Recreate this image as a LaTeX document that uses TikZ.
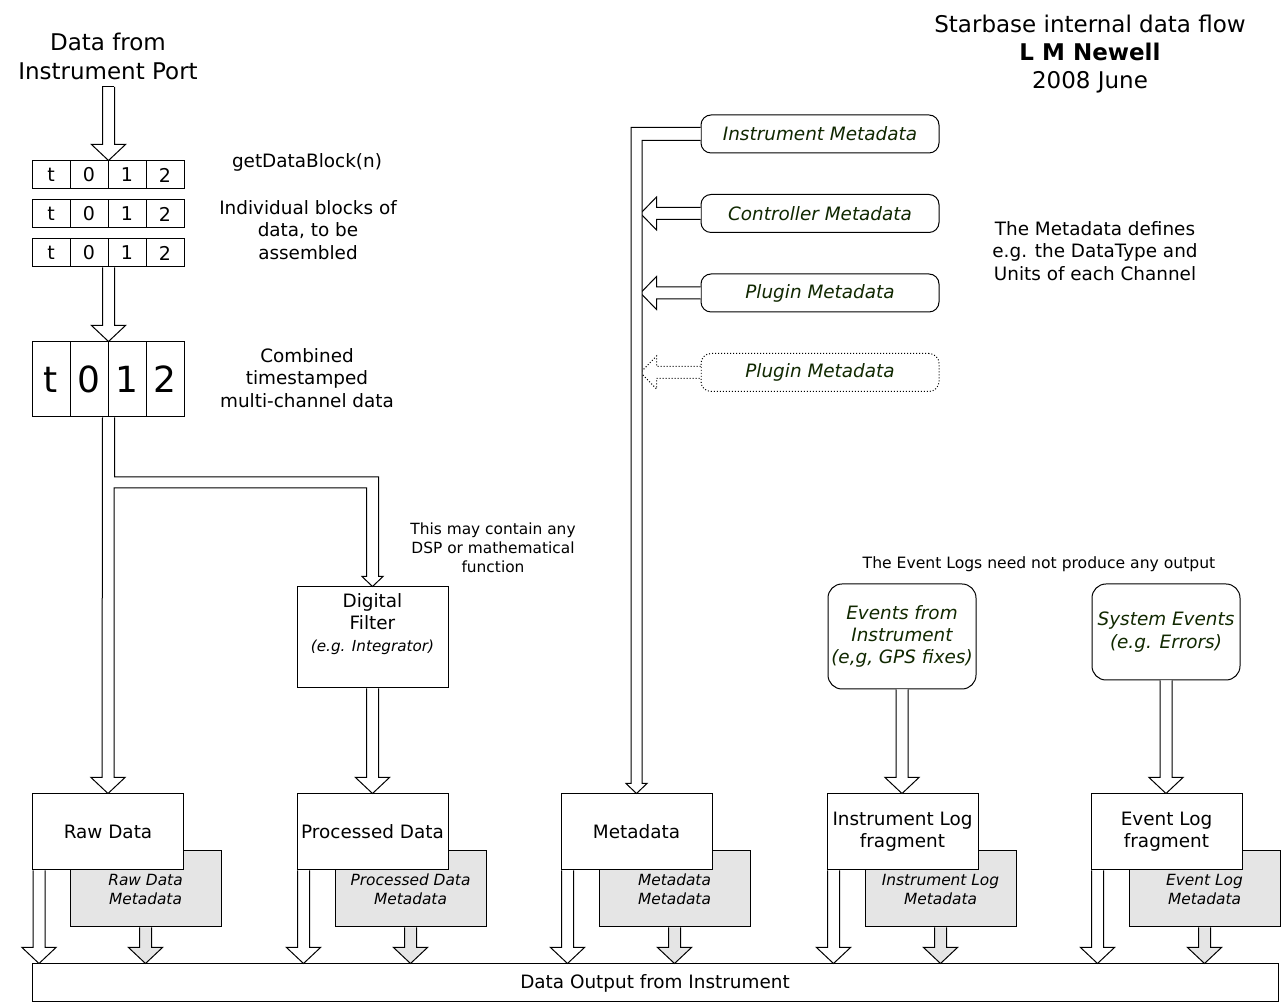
\documentclass[tikz,border=0pt]{standalone}
\usepackage{fontspec}
\setmainfont{DejaVu Sans}
\usetikzlibrary{calc,positioning}
\definecolor{metatext}{RGB}{16,40,0}

\newcommand\fs[2]{\fontsize{#1}{#2}\selectfont}

% hollow block arrow pointing down, #2 = top of shaft, #3 = tip
\newcommand\hollowdown[3][white]{%
  \draw[hollow, fill=#1] let \p1=(#2), \p2=(#3) in
    (\x2-3pt,\y1) -- (\x2-3pt,\y2+8pt) -- (\x2-8.5pt,\y2+8pt) -- (\x2,\y2)
    -- (\x2+8.5pt,\y2+8pt) -- (\x2+3pt,\y2+8pt) -- (\x2+3pt,\y1);}

% hollow block arrow pointing left, #2 = start of shaft, #3 = tip
\newcommand\hollowleft[3][]{%
  \draw[hollow, #1] let \p1=(#2), \p2=(#3) in
    (\x1,\y2+3pt) -- (\x2+8pt,\y2+3pt) -- (\x2+8pt,\y2+8.25pt) -- (\x2,\y2)
    -- (\x2+8pt,\y2-8.25pt) -- (\x2+8pt,\y2-3pt) -- (\x1,\y2-3pt);}

\tikzset{
  every node/.style={font=\fs{9.2}{11.2}},
  note/.style={align=center},
  cell/.style={draw, minimum width=19pt, minimum height=14pt, inner sep=0pt, font=\fs{9.5}{11}},
  bigcell/.style={draw, minimum width=19pt, minimum height=37.5pt, inner sep=0pt, font=\fs{18}{20}},
  box/.style={draw, fill=white, minimum width=75.5pt, minimum height=38pt, inner sep=1pt, align=center},
  metabox/.style={draw, fill=gray!20, minimum width=75.5pt, minimum height=38pt, align=center,
    font=\itshape\fs{7.7}{9.5}},
  srcbox/.style={draw, fill=white, rounded corners=5pt, minimum width=119pt, minimum height=19pt,
    inner sep=0pt, text=metatext, font=\itshape\fs{9.2}{11}},
  evbox/.style={draw, rounded corners=7pt, minimum width=74pt, inner sep=0pt, align=center,
    text=metatext, font=\itshape\fs{9.2}{11.2}},
  hollow/.style={draw, fill=white, line join=miter},
}

\begin{document}
\begin{tikzpicture}[x=0.5pt, y=-0.5pt, line width=0.5pt]
\useasboundingbox (0,0) rectangle (1281,1004);

% titles and notes
\node[note, font=\fs{11.5}{14}] (title) at (1090,54) {Starbase internal data flow\\\textbf{L M Newell}\\2008 June};
\node[note, font=\fs{11.5}{14.5}] (port) at (108,56) {Data from\\Instrument Port};
\node (getblk) at (307,162) {getDataBlock(n)};
\node[note] (blknote) at (308,230) {Individual blocks of\\data, to be\\assembled};
\node[note] (combnote) at (307,378) {Combined\\timestamped\\multi-channel data};
\node[note, font=\fs{7.7}{9.5}] (dspnote) at (493,548) {This may contain any\\DSP or mathematical\\function};
\node[note] (mdnote) at (1095,251) {The Metadata defines\\e.g. the DataType and\\Units of each Channel};
\node[font=\fs{7.8}{9.5}] (evnote) at (1039,564) {The Event Logs need not produce any output};

% data blocks
\foreach \r/\yy in {1/175,2/214,3/253}
  \foreach \lab [count=\i] in {t,0,1,2}
    \node[cell] (blk\r-\i) at ({13+38*\i},\yy) {\lab};
\foreach \lab [count=\i] in {t,0,1,2}
  \node[bigcell] (big-\i) at ({13+38*\i},379.5) {\lab};

% outputs
\node[metabox] (raw-md) at (145.5,889) {Raw Data\\Metadata};
\node[box] (raw) at (108,832) {Raw Data};
\node[metabox] (proc-md) at (410.5,889) {Processed Data\\Metadata};
\node[box] (proc) at (372.5,832) {Processed Data};
\node[metabox] (meta-md) at (674.5,889) {Metadata\\Metadata};
\node[box] (meta) at (636.5,832) {Metadata};
\node[metabox] (ilog-md) at (940.5,889) {Instrument Log\\Metadata};
\node[box] (ilog) at (902.5,832) {Instrument Log\\fragment};
\node[metabox] (elog-md) at (1204.5,889) {Event Log\\Metadata};
\node[box] (elog) at (1166.5,832) {Event Log\\fragment};
\node[box, minimum width=623pt, minimum height=19pt] (out) at (655,983) {Data Output from Instrument};

% filter
\node[box, minimum height=50.5pt] (filter) at (372.5,637.5) {};
\node[note] (filtxt) at (372.5,624) {Digital\\Filter\\{\itshape\fs{7.6}{9}(e.g. Integrator)}};

% metadata sources
\node[srcbox] (imeta) at (820,134) {Instrument Metadata};
\node[srcbox] (ctrl) at (820,213.5) {Controller Metadata};
\node[srcbox] (plug) at (820,293) {Plugin Metadata};
\node[srcbox, densely dotted] (plugx) at (820,372.5) {Plugin Metadata};

% event sources
\node[evbox, minimum height=52.5pt] (evi) at (902,636.5) {Events from\\Instrument\\(e,g, GPS fixes)};
\node[evbox, minimum height=48pt] (evs) at (1166,632) {System Events\\(e.g. Errors)};

% input arrows
\coordinate (portout) at (108,87);
\hollowdown{portout}{blk1-2.north east}
\draw ([xshift=-3pt]portout) -- ([xshift=3pt]portout);
\hollowdown{blk3-2.south east}{big-2.north east}

% split to raw data and filter
\coordinate (fork) at (filter.north |- 0,482.5);
\draw[hollow] ([xshift=-3pt]big-2.south east) -- ([xshift=-3pt,yshift=8pt]raw.north)
  -- ++(-5.5pt,0) -- (raw.north) -- ([xshift=8.5pt,yshift=8pt]raw.north) -- ++(-5.5pt,0)
  |- ([xshift=-3pt,yshift=-2.75pt]fork) -- ([xshift=-3pt,yshift=5pt]filter.north)
  -- ++(-2.25pt,0) -- (filter.north) -- ([xshift=5.25pt,yshift=5pt]filter.north) -- ++(-2.25pt,0)
  |- ([xshift=3pt,yshift=2.75pt]fork) -| ([xshift=3pt]big-2.south east);
\hollowdown{filter.south}{proc.north}

% metadata bus
\coordinate (busin) at ($(meta.north)+(2pt,0)$);
\hollowleft{ctrl.west}{busin |- ctrl.west}
\hollowleft{plug.west}{busin |- plug.west}
\hollowleft[densely dotted]{plugx.west}{busin |- plugx.west}
\draw[hollow] ([yshift=3.25pt]imeta.west) -| ([xshift=-2.75pt,yshift=5pt]meta.north)
  -- ++(-2.5pt,0) -- (meta.north) -- ([xshift=5.25pt,yshift=5pt]meta.north) -- ++(-2.5pt,0)
  |- ([yshift=-3.25pt]imeta.west);

% event logs
\hollowdown{evi.south}{evi.south |- ilog.north}
\hollowdown{evs.south}{evs.south |- elog.north}

% into the output
\foreach \nm in {raw,proc,meta,ilog,elog} {
  \hollowdown{\nm.south west}{$(\nm.south west |- out.north)+(3.5pt,0)$}
  \hollowdown[gray!20]{\nm-md.south}{\nm-md.south |- out.north}
}
\end{tikzpicture}
\end{document}
